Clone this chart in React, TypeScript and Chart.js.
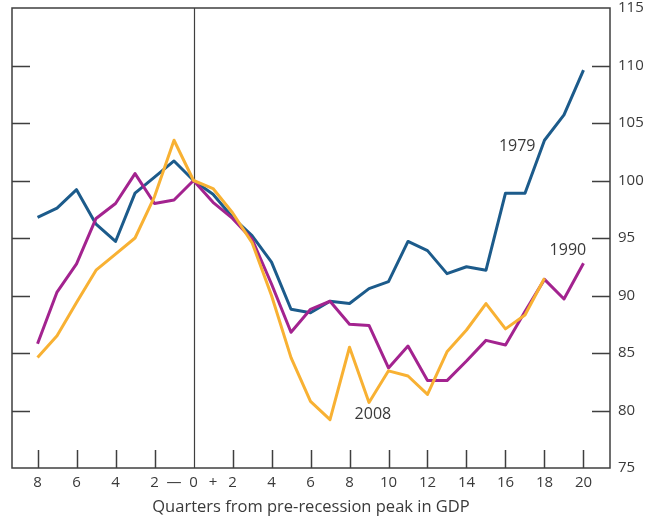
import React, { useEffect, useRef } from "react";
import { Chart, registerables } from "chart.js";

Chart.register(...registerables);

const quarters = [-8, -7, -6, -5, -4, -3, -2, -1, 0, 1, 2, 3, 4, 5, 6, 7, 8, 9, 10, 11, 12, 13, 14, 15, 16, 17, 18, 19, 20];

const series1979 = [96.8, 97.6, 99.2, 96.2, 94.7, 98.9, 100.3, 101.7, 100, 98.8, 96.8, 95.2, 92.9, 88.8, 88.5, 89.5, 89.3, 90.6, 91.2, 94.7, 93.9, 91.9, 92.5, 92.2, 98.9, 98.9, 103.5, 105.7, 109.6];
const series1990 = [85.8, 90.3, 92.75, 96.7, 98.0, 100.6, 98.0, 98.3, 100, 98.1, 96.7, 94.9, 91.0, 86.8, 88.8, 89.5, 87.5, 87.4, 83.7, 85.6, 82.6, 82.6, 84.3, 86.1, 85.7, 88.6, 91.4, 89.7, 92.8];
const series2008 = [84.6, 86.5, 89.4, 92.2, 93.6, 95.0, 98.6, 103.5, 100, 99.3, 97.2, 94.6, 90.0, 84.6, 80.8, 79.2, 85.5, 80.7, 83.45, 83.0, 81.4, 85.1, 87.0, 89.3, 87.1, 88.3, 91.5, null, null];

const xTickValues = [-8, -7, -6, -5, -4, -3, -2, -1, 0, 1, 2, 3, 4, 5, 6, 7, 8, 9, 10, 11, 12, 13, 14, 15, 16, 17, 18, 19, 20];
const yTickValues = [75, 80, 85, 90, 95, 100, 105, 110, 115];

const seriesLabels = [
  { text: "1979", x: 16.6, y: 103.0 },
  { text: "1990", x: 19.2, y: 93.9 },
  { text: "2008", x: 9.2, y: 79.7 },
];

const X_MIN = -9.31;
const X_MAX = 21.36;
const Y_MIN = 75;
const Y_MAX = 115;

const FONT = "'Open Sans', 'DejaVu Sans', sans-serif";
const TEXT = "#3a3a3a";
const FRAME = "#3f3f3f";

function xLabel(v: number): string {
  if (v === -1) return "\u2014";
  if (v === 1) return "+";
  if (v % 2 !== 0) return "";
  return String(Math.abs(v));
}

const framePlugin = {
  id: "frame",
  beforeDatasetsDraw(chart: any) {
    const { ctx, chartArea } = chart;
    const xs = chart.scales.x;
    const ys = chart.scales.y;
    const { left, right, top, bottom } = chartArea;
    ctx.save();
    ctx.strokeStyle = FRAME;
    ctx.lineWidth = 1.5;
    ctx.strokeRect(left, top, right - left, bottom - top);
    const x0 = Math.round(xs.getPixelForValue(0)) + 0.5;
    ctx.lineWidth = 1.2;
    ctx.beginPath();
    ctx.moveTo(x0, top);
    ctx.lineTo(x0, bottom);
    ctx.stroke();
    ctx.lineWidth = 1.5;
    const sideLen = 18;
    yTickValues.forEach((v) => {
      if (v === Y_MIN || v === Y_MAX) return;
      const y = Math.round(ys.getPixelForValue(v)) + 0.5;
      ctx.beginPath();
      ctx.moveTo(left, y);
      ctx.lineTo(left + sideLen, y);
      ctx.moveTo(right, y);
      ctx.lineTo(right - sideLen, y);
      ctx.stroke();
    });
    xTickValues.forEach((v) => {
      if (v % 2 !== 0 || v === 0) return;
      const x = Math.round(xs.getPixelForValue(v)) + 0.5;
      ctx.beginPath();
      ctx.moveTo(x, bottom);
      ctx.lineTo(x, bottom - 18);
      ctx.stroke();
    });
    ctx.restore();
  },
  afterDatasetsDraw(chart: any) {
    const { ctx } = chart;
    const xs = chart.scales.x;
    const ys = chart.scales.y;
    ctx.save();
    ctx.fillStyle = TEXT;
    ctx.font = `16px ${FONT}`;
    ctx.textAlign = "center";
    ctx.textBaseline = "middle";
    seriesLabels.forEach((l) => {
      ctx.fillText(l.text, xs.getPixelForValue(l.x), ys.getPixelForValue(l.y));
    });
    ctx.restore();
  },
};

export default function App() {
  const canvasRef = useRef<HTMLCanvasElement | null>(null);

  useEffect(() => {
    if (!canvasRef.current) return;
    const toPts = (arr: (number | null)[]) => quarters.map((q, i) => ({ x: q, y: arr[i] }));
    const chart = new Chart(canvasRef.current, {
      type: "line",
      data: {
        datasets: [
          {
            label: "2008",
            data: toPts(series2008) as any,
            borderColor: "#f8b133",
            borderWidth: 3,
            pointRadius: 0,
            tension: 0,
            borderJoinStyle: "round",
            spanGaps: false,
          },
          {
            label: "1990",
            data: toPts(series1990) as any,
            borderColor: "#a3238f",
            borderWidth: 3,
            pointRadius: 0,
            tension: 0,
            borderJoinStyle: "round",
          },
          {
            label: "1979",
            data: toPts(series1979) as any,
            borderColor: "#1c5b8b",
            borderWidth: 3,
            pointRadius: 0,
            tension: 0,
            borderJoinStyle: "round",
          },
        ],
      },
      options: {
        animation: false,
        responsive: true,
        maintainAspectRatio: false,
        layout: { padding: { left: 12, top: 8, right: 0, bottom: 0 } },
        plugins: {
          legend: { display: false },
          tooltip: { enabled: false },
        },
        scales: {
          x: {
            type: "linear",
            min: X_MIN,
            max: X_MAX,
            grid: { display: false, drawTicks: false },
            border: { display: false },
            afterBuildTicks: (scale: any) => {
              scale.ticks = xTickValues.map((v) => ({ value: v }));
            },
            afterFit: (scale: any) => {
              scale.height = 51;
              scale.paddingLeft = 0;
              scale.paddingRight = 0;
            },
            ticks: {
              autoSkip: false,
              maxRotation: 0,
              padding: 6,
              color: TEXT,
              font: { family: FONT, size: 15 },
              callback: (v: any) => xLabel(Number(v)),
            },
            title: {
              display: true,
              text: "Quarters from pre-recession peak in GDP",
              color: TEXT,
              font: { family: FONT, size: 16.5 },
              padding: { top: 2, bottom: 2 },
            },
          },
          y: {
            type: "linear",
            position: "right",
            min: Y_MIN,
            max: Y_MAX,
            grid: { display: false, drawTicks: false },
            border: { display: false },
            afterBuildTicks: (scale: any) => {
              scale.ticks = yTickValues.map((v) => ({ value: v }));
            },
            afterFit: (scale: any) => {
              scale.width = 50;
              scale.paddingTop = 0;
              scale.paddingBottom = 0;
            },
            ticks: {
              padding: 8,
              color: TEXT,
              font: { family: FONT, size: 15 },
            },
          },
        },
      },
      plugins: [framePlugin],
    });
    return () => chart.destroy();
  }, []);

  return (
    <div style={{ position: "absolute", left: 0, top: 0, width: 660, height: 519, background: "#fff" }}>
      <canvas ref={canvasRef} />
    </div>
  );
}
